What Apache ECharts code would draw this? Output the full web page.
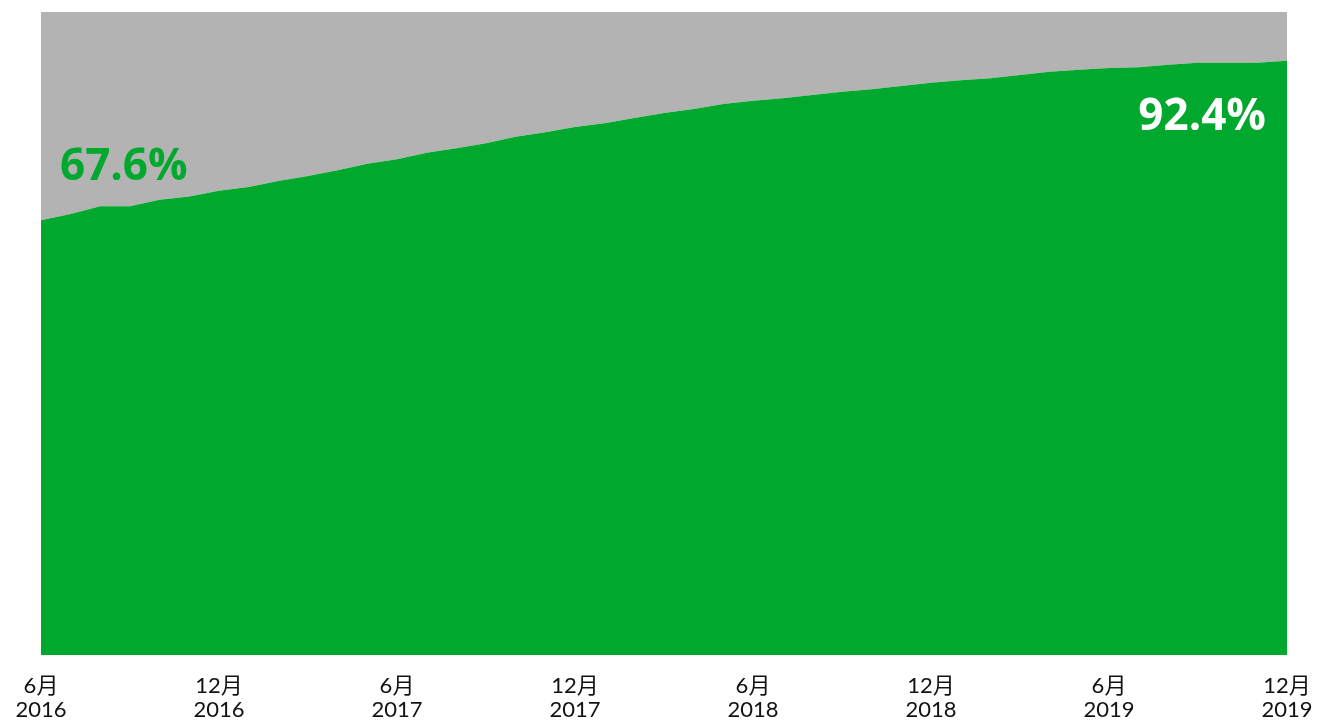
<!DOCTYPE html>
<html>
<head>
<meta charset="utf-8">
<script src="https://cdn.jsdelivr.net/npm/echarts@6/dist/echarts.min.js"></script>
<style>
html,body{margin:0;padding:0;background:#fff;}
#c{width:1317px;height:723px;}
</style>
</head>
<body>
<div id="c"></div>
<script>
// Months from June 2016 to December 2019
const months = [
  '6月\n2016','7月\n2016','8月\n2016','9月\n2016','10月\n2016','11月\n2016','12月\n2016',
  '1月\n2017','2月\n2017','3月\n2017','4月\n2017','5月\n2017','6月\n2017','7月\n2017','8月\n2017','9月\n2017','10月\n2017','11月\n2017','12月\n2017',
  '1月\n2018','2月\n2018','3月\n2018','4月\n2018','5月\n2018','6月\n2018','7月\n2018','8月\n2018','9月\n2018','10月\n2018','11月\n2018','12月\n2018',
  '1月\n2019','2月\n2019','3月\n2019','4月\n2019','5月\n2019','6月\n2019','7月\n2019','8月\n2019','9月\n2019','10月\n2019','11月\n2019','12月\n2019'
];
// Share (%) - green series
const share = [
  67.6, 68.6, 69.8, 69.8, 70.8, 71.3, 72.2,
  72.8, 73.7, 74.5, 75.4, 76.4, 77.1, 78.1, 78.8, 79.6, 80.6, 81.3, 82.1,
  82.7, 83.5, 84.3, 84.9, 85.7, 86.2, 86.6, 87.1, 87.6, 88.0, 88.5, 89.0,
  89.4, 89.7, 90.2, 90.7, 91.0, 91.3, 91.4, 91.8, 92.1, 92.1, 92.1, 92.4
];
// Remainder (%) - gray series
const rest = share.map(v => +(100 - v).toFixed(1));
const firstIdx = 0;
const lastIdx = share.length - 1;

const labelFont = 'Open Sans';
const greenData = share.map((v, i) => {
  if (i === firstIdx) {
    return { value: v, label: { show: true, position: 'right', offset: [14, -53], color: '#00a82d' } };
  }
  if (i === lastIdx) {
    return { value: v, label: { show: true, position: 'left', offset: [-16, 57], color: '#ffffff' } };
  }
  return v;
});

const chart = echarts.init(document.getElementById('c'), null, { renderer: 'canvas' });
chart.setOption({
  animation: false,
  backgroundColor: '#ffffff',
  grid: { left: 41, right: 30, top: 12, bottom: 68, containLabel: false },
  xAxis: {
    type: 'category',
    data: months,
    boundaryGap: false,
    axisLine: { show: false },
    axisTick: { show: false },
    splitLine: { show: false },
    axisLabel: {
      interval: 5,
      margin: 19,
      color: '#111',
      fontFamily: "Lato, 'Noto Sans CJK SC'",
      fontSize: 22,
      lineHeight: 24
    }
  },
  yAxis: {
    type: 'value',
    min: 0,
    max: 100,
    show: false,
    splitLine: { show: false }
  },
  series: [
    {
      name: 'share',
      type: 'line',
      stack: 'total',
      data: greenData,
      showSymbol: true,
      symbol: 'circle',
      symbolSize: 0,
      lineStyle: { width: 0 },
      areaStyle: { color: '#00a82d', opacity: 1 },
      label: {
        show: false,
        formatter: '{c}%',
        fontFamily: labelFont,
        fontWeight: 'bold',
        fontSize: 44
      },
      z: 3
    },
    {
      name: 'rest',
      type: 'line',
      stack: 'total',
      data: rest,
      showSymbol: false,
      symbol: 'none',
      lineStyle: { width: 0 },
      areaStyle: { color: '#b3b3b3', opacity: 1 },
      z: 2
    }
  ]
});
</script>
</body>
</html>
